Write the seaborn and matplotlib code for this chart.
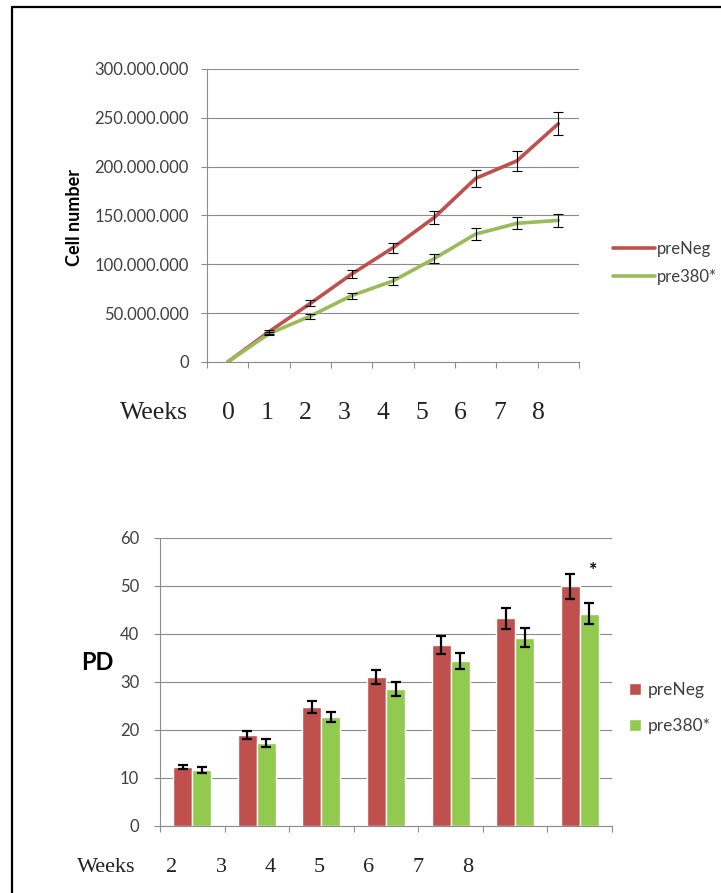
import numpy as np
import pandas as pd
import seaborn as sns
import matplotlib.pyplot as plt
from matplotlib.lines import Line2D
from matplotlib.ticker import FuncFormatter

# top chart: cumulative cell number per week
weeks_top = [0, 1, 2, 3, 4, 5, 6, 7, 8]
cells_neg = [0, 31e6, 60e6, 90e6, 117e6, 148e6, 188e6, 206e6, 244e6]
cells_380 = [0, 29e6, 47e6, 68e6, 83e6, 106e6, 131e6, 142e6, 145e6]
err_neg = [0, 2e6, 3e6, 4.5e6, 5e6, 7e6, 9e6, 10e6, 12e6]
err_380 = [0, 1.5e6, 2.5e6, 3e6, 4.5e6, 5e6, 6e6, 6e6, 6.5e6]

# bottom chart: population doublings
weeks_bot = ["2", "3", "4", "5", "6", "7", "8"]
pd_neg = [12.3, 19.0, 24.8, 31.0, 37.7, 43.3, 49.9]
pd_380 = [11.7, 17.3, 22.7, 28.5, 34.4, 39.2, 44.2]
pd_err_neg = [0.5, 0.8, 1.2, 1.5, 1.9, 2.2, 2.6]
pd_err_380 = [0.6, 0.8, 1.1, 1.5, 1.7, 2.0, 2.2]

groups = ["preNeg", "pre380*"]

sns.set_style("white")
plt.rcParams["font.family"] = ["Lato", "DejaVu Sans"]

red = "#C0504D"
green_line = "#9BBB59"
green_bar = "#92CA50"
grid_c = "#8C8C8C"
tick_c = "#404040"
serif = ["Liberation Serif", "DejaVu Serif"]

fig = plt.figure(figsize=(7.21, 8.93), dpi=100)

# ---------- top line chart ----------
ax1 = fig.add_axes([207 / 721, 1 - 362 / 893, 372 / 721, 293 / 893])
top = pd.DataFrame({
    "week": weeks_top * 2,
    "cells": cells_neg + cells_380,
    "group": [groups[0]] * 9 + [groups[1]] * 9,
})
sns.lineplot(data=top, x="week", y="cells", hue="group",
             palette={groups[0]: red, groups[1]: green_line},
             linewidth=2.6, ax=ax1)
ax1.errorbar(weeks_top[1:], cells_neg[1:], yerr=err_neg[1:], fmt="none",
             ecolor="black", elinewidth=0.8, capsize=3.5, capthick=0.8, zorder=5)
ax1.errorbar(weeks_top[1:], cells_380[1:], yerr=err_380[1:], fmt="none",
             ecolor="black", elinewidth=0.8, capsize=3.5, capthick=0.8, zorder=5)

ax1.set_xlim(-0.5, 8.5)
ax1.set_ylim(0, 300e6)
ax1.set_yticks(np.arange(0, 300e6 + 1, 50e6))
ax1.yaxis.set_major_formatter(FuncFormatter(lambda v, p: f"{int(v):,}".replace(",", ".")))
ax1.set_xticks(np.arange(-0.5, 9, 1))
ax1.set_xticklabels([])
ax1.set_xlabel("")
ax1.set_ylabel("")
ax1.grid(axis="y", color=grid_c, linewidth=0.8)
ax1.set_axisbelow(True)
for s in ["top", "right"]:
    ax1.spines[s].set_visible(False)
for s in ["left", "bottom"]:
    ax1.spines[s].set_color(grid_c)
    ax1.spines[s].set_linewidth(0.8)
ax1.tick_params(axis="both", direction="out", length=4, width=0.8, color=grid_c,
                labelsize=12, labelcolor=tick_c, left=True, bottom=True)
ax1.tick_params(axis="y", pad=9)

h, l = ax1.get_legend_handles_labels()
ax1.legend(h, l, loc="center left", bbox_to_anchor=(613 / 721, 1 - 263 / 893),
           bbox_transform=fig.transFigure, frameon=False, fontsize=12,
           handlelength=2.5, handletextpad=0.15, labelspacing=0.7,
           borderpad=0, borderaxespad=0, labelcolor=tick_c)

fig.text(75 / 721, 1 - 218 / 893, "Cell number", rotation=90, ha="center",
         va="center", fontsize=13, fontweight="bold", color="black")

fig.text(154 / 721, 1 - 413 / 893, "Weeks", ha="center", va="center",
         fontsize=18.5, family=serif, color="#222222")
for i, w in enumerate(weeks_top):
    fig.text((228 + 38.8 * i) / 721, 1 - 413 / 893, str(w), ha="center",
             va="center", fontsize=18.5, family=serif, color="#222222")

# ---------- bottom bar chart ----------
ax2 = fig.add_axes([160 / 721, 1 - 826 / 893, 452 / 721, 288 / 893])
bot = pd.DataFrame({
    "week": weeks_bot * 2,
    "pd": pd_neg + pd_380,
    "group": [groups[0]] * 7 + [groups[1]] * 7,
})
sns.barplot(data=bot, x="week", y="pd", hue="group",
            palette={groups[0]: red, groups[1]: green_bar},
            width=0.59, errorbar=None, saturation=1, ax=ax2)
for cont, errs in zip(ax2.containers, [pd_err_neg, pd_err_380]):
    xs = [b.get_x() + b.get_width() / 2 for b in cont]
    hs = [b.get_height() for b in cont]
    ax2.errorbar(xs, hs, yerr=errs, fmt="none", ecolor="black",
                 elinewidth=1.6, capsize=3.8, capthick=1.6, zorder=5)

ax2.text(6.21, 53.3, "*", ha="center", va="center", fontsize=14,
         fontweight="bold", color="black")

ax2.set_xlim(-0.5, 6.5)
ax2.set_ylim(0, 60)
ax2.set_yticks(np.arange(0, 61, 10))
ax2.set_xticks(np.arange(-0.5, 7, 1))
ax2.set_xticklabels([])
ax2.set_xlabel("")
ax2.set_ylabel("")
ax2.grid(axis="y", color=grid_c, linewidth=0.8)
ax2.set_axisbelow(True)
for s in ["top", "right"]:
    ax2.spines[s].set_visible(False)
for s in ["left", "bottom"]:
    ax2.spines[s].set_color(grid_c)
    ax2.spines[s].set_linewidth(0.8)
ax2.tick_params(axis="both", direction="out", length=4, width=0.8, color=grid_c,
                labelsize=12, labelcolor=tick_c, left=True, bottom=True)
ax2.tick_params(axis="y", pad=11)

h, l = ax2.get_legend_handles_labels()
ax2.legend(h, l, loc="center left", bbox_to_anchor=(629 / 721, 1 - 708 / 893),
           bbox_transform=fig.transFigure, frameon=False, fontsize=12.5,
           handlelength=0.7, handleheight=0.75, handletextpad=0.4,
           labelspacing=1.15, borderpad=0, borderaxespad=0, labelcolor=tick_c)

fig.text(97 / 721, 1 - 662 / 893, "PD", ha="center", va="center",
         fontsize=17, fontweight="bold", color="black")

fig.text(106 / 721, 1 - 868 / 893, "Weeks", ha="center", va="center",
         fontsize=16, family=serif, color="#222222")
for i, w in enumerate(weeks_bot):
    fig.text((172 + 49.2 * i) / 721, 1 - 868 / 893, w, ha="center",
             va="center", fontsize=16, family=serif, color="#222222")

# page frame (left and top edges)
fig.add_artist(Line2D([12 / 721, 12 / 721], [0, 1 - 7 / 893],
                      transform=fig.transFigure, color="black", linewidth=1.6))
fig.add_artist(Line2D([12 / 721, 1], [1 - 7 / 893, 1 - 7 / 893],
                      transform=fig.transFigure, color="black", linewidth=1.6))

fig.savefig("out.png", dpi=100)
